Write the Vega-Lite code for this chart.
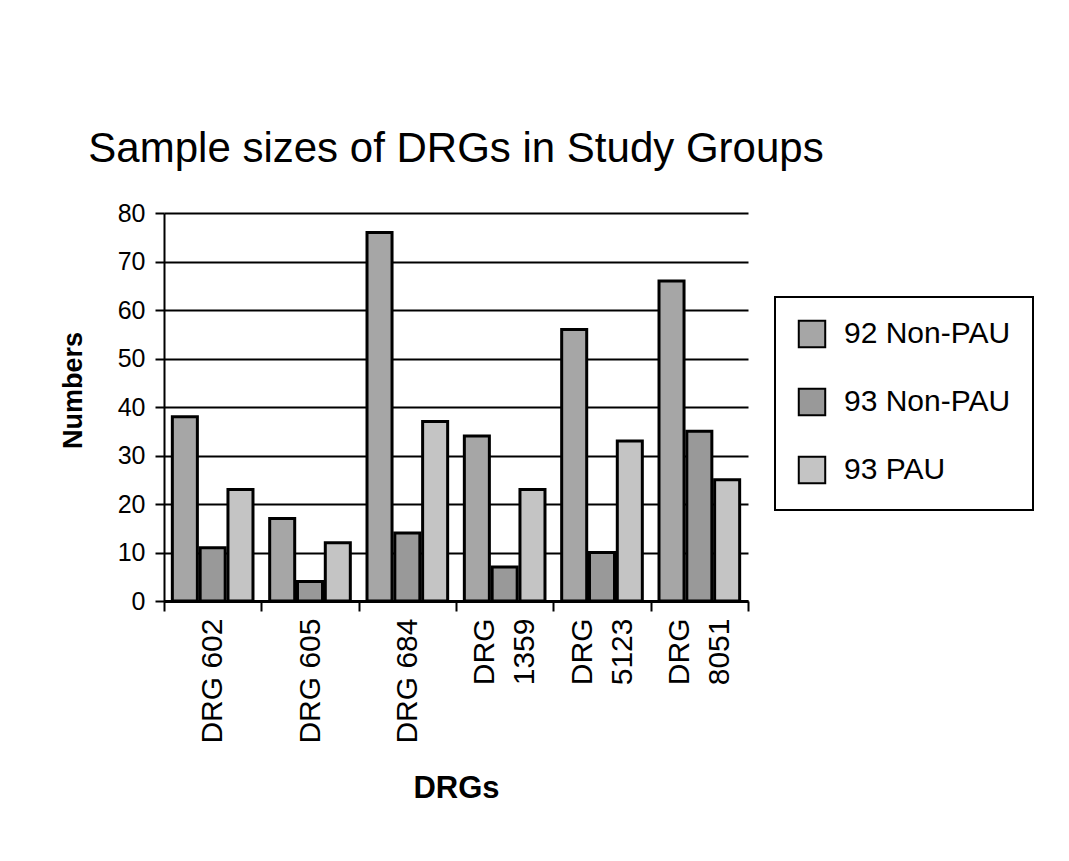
{
  "$schema": "https://vega.github.io/schema/vega-lite/v6.json",
  "width": 584,
  "height": 388,
  "autosize": {"type": "none"},
  "padding": {"left": 164, "top": 213, "right": 321, "bottom": 260},
  "background": "white",
  "title": {
    "text": "Sample sizes of DRGs in Study Groups",
    "font": "Liberation Sans",
    "fontSize": 42,
    "fontWeight": "normal",
    "color": "black",
    "anchor": "middle",
    "offset": 30
  },
  "data": {
    "values": [
      {"drg": "DRG 602", "group": "92 Non-PAU", "n": 38},
      {"drg": "DRG 602", "group": "93 Non-PAU", "n": 11},
      {"drg": "DRG 602", "group": "93 PAU", "n": 23},
      {"drg": "DRG 605", "group": "92 Non-PAU", "n": 17},
      {"drg": "DRG 605", "group": "93 Non-PAU", "n": 4},
      {"drg": "DRG 605", "group": "93 PAU", "n": 12},
      {"drg": "DRG 684", "group": "92 Non-PAU", "n": 76},
      {"drg": "DRG 684", "group": "93 Non-PAU", "n": 14},
      {"drg": "DRG 684", "group": "93 PAU", "n": 37},
      {"drg": "DRG 1359", "group": "92 Non-PAU", "n": 34},
      {"drg": "DRG 1359", "group": "93 Non-PAU", "n": 7},
      {"drg": "DRG 1359", "group": "93 PAU", "n": 23},
      {"drg": "DRG 5123", "group": "92 Non-PAU", "n": 56},
      {"drg": "DRG 5123", "group": "93 Non-PAU", "n": 10},
      {"drg": "DRG 5123", "group": "93 PAU", "n": 33},
      {"drg": "DRG 8051", "group": "92 Non-PAU", "n": 66},
      {"drg": "DRG 8051", "group": "93 Non-PAU", "n": 35},
      {"drg": "DRG 8051", "group": "93 PAU", "n": 25}
    ]
  },
  "mark": {"type": "bar", "stroke": "black", "strokeWidth": 3, "strokeJoin": "miter"},
  "encoding": {
    "x": {
      "field": "drg",
      "type": "nominal",
      "sort": null,
      "scale": {"paddingInner": 0, "paddingOuter": 0},
      "axis": {
        "title": "DRGs",
        "titleFont": "Liberation Sans",
        "titleFontSize": 31,
        "titleFontWeight": "bold",
        "titleColor": "black",
        "titlePadding": 30,
        "labelFont": "Liberation Sans",
        "labelFontSize": 30,
        "labelColor": "black",
        "labelAngle": 270,
        "labelAlign": "right",
        "labelBaseline": "middle",
        "labelPadding": 7,
        "labelLineHeight": 40,
        "labelExpr": "datum.label == 'DRG 602' || datum.label == 'DRG 605' || datum.label == 'DRG 684' ? datum.label : split(datum.label, ' ')",
        "labelOffset": {"expr": "indexof(['DRG 1359', 'DRG 5123', 'DRG 8051'], datum.value) >= 0 ? -20 : 0"},
        "tickBand": "extent",
        "tickSize": 10,
        "tickColor": "black",
        "tickWidth": 2,
        "domainColor": "black",
        "domainWidth": 3,
        "grid": false
      }
    },
    "xOffset": {
      "field": "group",
      "type": "nominal",
      "scale": {"paddingInner": 0.1, "paddingOuter": 0.3}
    },
    "y": {
      "field": "n",
      "type": "quantitative",
      "scale": {"domain": [0, 80], "nice": false},
      "axis": {
        "title": "Numbers",
        "titleFont": "Liberation Sans",
        "titleFontSize": 27,
        "titleFontWeight": "bold",
        "titleColor": "black",
        "titlePadding": 30,
        "titleY": 177,
        "values": [0, 10, 20, 30, 40, 50, 60, 70, 80],
        "labelFont": "Liberation Sans",
        "labelFontSize": 25,
        "labelColor": "black",
        "labelPadding": 10,
        "tickSize": 9,
        "tickColor": "black",
        "tickWidth": 2,
        "domainColor": "black",
        "domainWidth": 2,
        "grid": true,
        "gridColor": "black",
        "gridWidth": 2,
        "gridOpacity": 1
      }
    },
    "fill": {
      "field": "group",
      "type": "nominal",
      "scale": {
        "domain": ["92 Non-PAU", "93 Non-PAU", "93 PAU"],
        "range": ["#a6a6a6", "#999999", "#c4c4c4"]
      },
      "legend": {
        "title": null,
        "orient": "none",
        "legendX": 611,
        "legendY": 84,
        "padding": 22,
        "strokeColor": "black",
        "fillColor": "white",
        "symbolType": "square",
        "symbolSize": 700,
        "symbolStrokeColor": "black",
        "symbolStrokeWidth": 2,
        "labelFont": "Liberation Sans",
        "labelFontSize": 30,
        "labelColor": "black",
        "labelOffset": 17,
        "rowPadding": 32,
        "labelLimit": 300,
        "encode": {"legend": {"update": {"strokeWidth": {"value": 2}}}}
      }
    }
  },
  "config": {
    "view": {"stroke": null}
  }
}
